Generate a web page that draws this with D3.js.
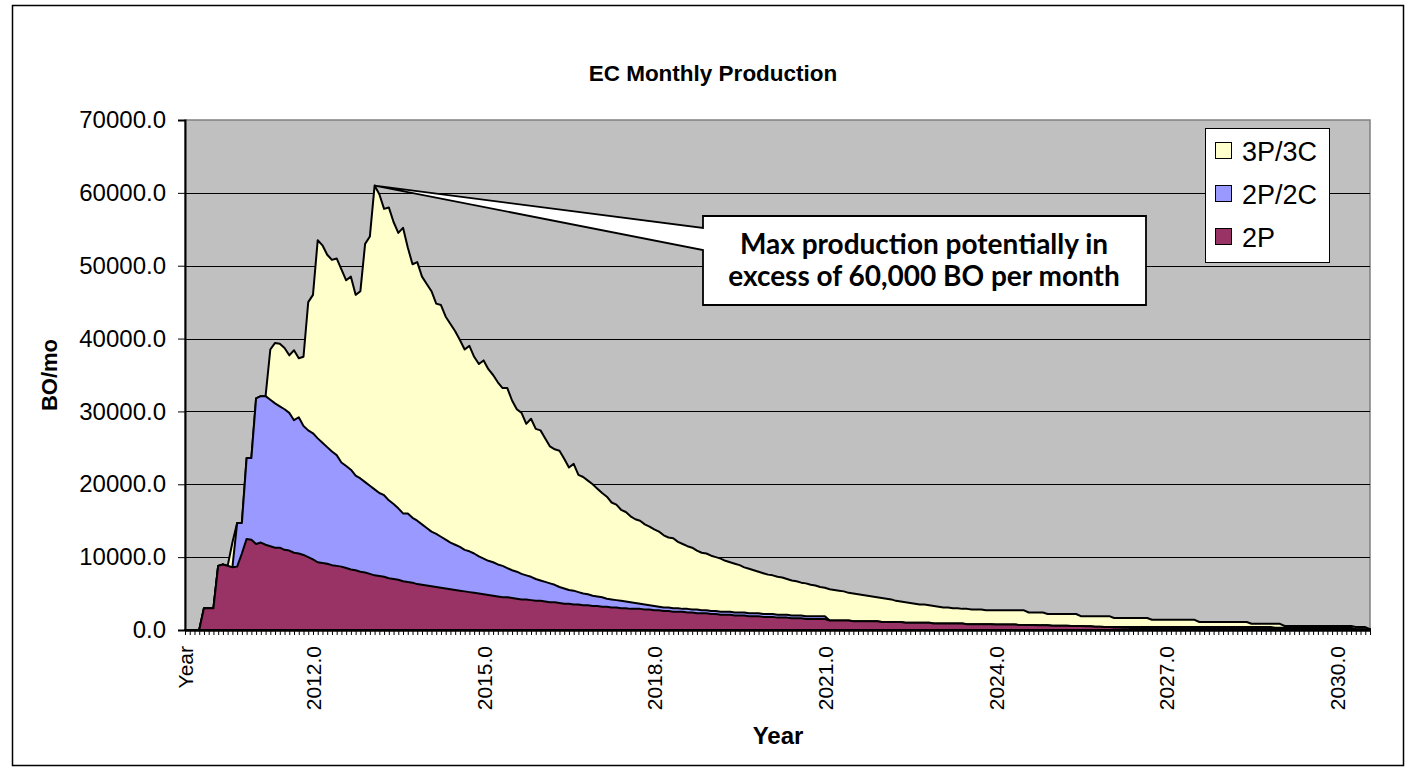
<!DOCTYPE html>
<html>
<head>
<meta charset="utf-8">
<script src="https://cdn.jsdelivr.net/npm/d3@7"></script>
<style>
  body { margin: 0; background: #fff; }
  text { font-family: "Liberation Sans", Arial, sans-serif; }
</style>
</head>
<body>
<div id="chart"></div>
<script>
// category 0 is the "Year" header, then one category per month
let seriesNames = ['3P/3C', '2P/2C', '2P']
let seriesColors = ['#FFFFCC', '#9999FF', '#993366']

let p3 = [
  0,0,0,0,3000,3000,3000,8800,9000,8800,
  12000,14700,14700,23600,23600,31800,32100,32100,38500,39400,
  39300,38700,37700,38400,37300,37500,45000,46000,53500,52800,
  51500,50800,51000,49500,48000,48500,46000,46500,53000,54000,
  61000,59800,57800,58000,56000,54500,55200,52500,50200,50500,
  48500,47500,46500,44800,44600,43000,42000,41000,39800,38500,
  39000,37500,36500,37000,35800,35000,34000,33200,33200,31500,
  30300,29800,28300,29000,27600,27400,26300,25200,24800,24600,
  23500,22300,22800,21300,21000,20500,20000,19400,18800,18300,
  17500,17200,16500,16200,15600,15200,15000,14500,14200,13800,
  13500,13000,12700,12600,12100,11800,11500,11300,10900,10600,
  10500,10200,10000,9800,9500,9300,9100,8900,8600,8400,
  8200,8000,7800,7600,7500,7300,7200,7000,6800,6700,
  6500,6400,6200,6100,5900,5800,5600,5500,5400,5300,
  5100,5000,4900,4800,4700,4600,4500,4400,4300,4200,
  4000,3900,3800,3700,3600,3500,3500,3400,3300,3200,
  3100,3100,3000,3000,2900,2900,2800,2800,2800,2700,
  2700,2700,2700,2700,2700,2700,2700,2700,2400,2400,
  2400,2400,2200,2200,2200,2200,2200,2200,2200,1900,
  1900,1900,1900,1900,1900,1900,1650,1650,1650,1650,
  1650,1650,1650,1650,1400,1400,1400,1400,1400,1400,
  1400,1400,1400,1400,1100,1100,1100,1100,1100,1100,
  1100,1100,1100,1100,1100,850,850,850,850,850,
  850,850,550,550,550,550,550,550,550,550,
  550,550,550,550,550,550,550,400,400,400,
  100
]

let p2c = [
  0,0,0,0,3000,3000,3000,8800,9000,8800,
  8600,14700,14700,23600,23600,31800,32100,32100,31600,31100,
  30700,30300,29800,28800,29200,28000,27400,27000,26300,25700,
  25100,24500,24000,23000,22500,22000,21200,20800,20300,19800,
  19300,18800,18500,17800,17300,16700,16000,16000,15400,15000,
  14500,14000,13500,13200,12800,12400,12000,11700,11400,11000,
  10800,10500,10100,9800,9500,9300,9000,8800,8500,8200,
  8000,7700,7500,7300,7000,6800,6600,6400,6200,5900,
  5700,5500,5400,5200,5000,4900,4700,4600,4500,4300,
  4200,4100,4000,3900,3800,3700,3600,3500,3400,3300,
  3200,3100,3100,3000,3000,2900,2900,2800,2800,2700,
  2700,2600,2600,2500,2500,2500,2400,2400,2400,2300,
  2300,2300,2200,2200,2200,2100,2100,2100,2000,2000,
  2000,1900,1900,1900,1900,1900,1300,1300,1300,1300,
  1300,1200,1200,1200,1200,1200,1200,1100,1100,1100,
  1100,1100,1000,1000,1000,1000,1000,1000,900,900,
  900,900,900,900,900,800,800,800,800,800,
  800,750,750,750,750,750,700,700,700,700,
  650,650,650,600,600,600,600,550,550,550,
  500,500,450,450,400,400,400,400,400,400,
  400,400,400,400,400,400,400,400,400,400,
  400,400,400,400,400,400,400,400,400,400,
  400,400,400,400,400,400,400,400,400,400,
  300,300,300,300,300,300,300,300,300,300,
  300,300,300,300,300,300,300,100,100,100,
  100
]

let p2 = [
  0,0,0,0,3000,3000,3000,8800,9000,8800,
  8600,8700,10500,12500,12400,11800,12000,11700,11500,11300,
  11300,11000,10900,10600,10500,10300,10000,9700,9300,9200,
  9100,8900,8800,8700,8500,8300,8200,8000,7900,7700,
  7500,7400,7300,7100,7000,6900,6700,6600,6500,6300,
  6200,6100,6000,5900,5800,5700,5600,5500,5400,5300,
  5200,5100,5000,4900,4800,4700,4600,4500,4500,4400,
  4300,4200,4200,4100,4000,4000,3900,3800,3800,3700,
  3600,3600,3500,3500,3400,3400,3300,3300,3200,3200,
  3100,3100,3000,3000,2900,2900,2900,2800,2800,2700,
  2700,2600,2600,2500,2500,2500,2400,2400,2300,2300,
  2300,2200,2200,2100,2100,2100,2000,2000,2000,1900,
  1900,1900,1800,1800,1800,1700,1700,1700,1600,1600,
  1600,1500,1500,1500,1500,1500,1300,1300,1300,1300,
  1300,1200,1200,1200,1200,1200,1200,1100,1100,1100,
  1100,1100,1000,1000,1000,1000,1000,1000,900,900,
  900,900,900,900,900,800,800,800,800,800,
  800,750,750,750,750,750,700,700,700,700,
  650,650,650,600,600,600,600,550,550,550,
  500,500,450,450,400,400,350,350,300,300,
  250,200,200,200,200,200,200,200,200,200,
  200,200,200,200,200,200,200,200,200,200,
  200,200,200,200,200,200,200,200,200,200,
  200,200,200,200,200,200,200,200,200,200,
  200,200,200,200,200,200,200,100,100,100,
  100
]

let xTickLabels = ['Year', '2012.0', '2015.0', '2018.0', '2021.0', '2024.0', '2027.0', '2030.0']
let xTickIndex = [0, 27, 63, 99, 135, 171, 207, 243]
let yTicks = [0, 10000, 20000, 30000, 40000, 50000, 60000, 70000]

let width = 1416
let height = 771
let plot = { left: 185, right: 1370, top: 120, bottom: 630 }

let svg = d3.select('#chart')
  .append('svg')
    .attr('width', width)
    .attr('height', height)

// chart border
svg.append('rect')
  .attr('x', 12.5).attr('y', 5.5)
  .attr('width', 1391).attr('height', 760)
  .attr('fill', '#fff')
  .attr('stroke', '#000')
  .attr('stroke-width', 1.5)

let x = d3.scaleLinear()
  .domain([0, p3.length - 1])
  .range([plot.left, plot.right])

let y = d3.scaleLinear()
  .domain([0, 70000])
  .range([plot.bottom, plot.top])

// plot area
svg.append('rect')
  .attr('x', plot.left).attr('y', plot.top)
  .attr('width', plot.right - plot.left)
  .attr('height', plot.bottom - plot.top)
  .attr('fill', '#C0C0C0')
  .attr('stroke', '#808080')
  .attr('stroke-width', 1.5)

svg.append('g')
  .selectAll('line')
  .data(yTicks.filter(d => d > 0 && d < 70000))
  .enter()
  .append('line')
    .attr('x1', plot.left).attr('x2', plot.right)
    .attr('y1', d => Math.round(y(d)) + 0.5)
    .attr('y2', d => Math.round(y(d)) + 0.5)
    .attr('stroke', '#000')
    .attr('stroke-width', 1)

let area = d3.area()
  .x((d, i) => x(i))
  .y0(y(0))
  .y1(d => y(d))

let allSeries = [p3, p2c, p2]

svg.append('g')
  .selectAll('path')
  .data(allSeries)
  .enter()
  .append('path')
    .attr('d', d => area(d))
    .attr('fill', (d, i) => seriesColors[i])
    .attr('stroke', '#000')
    .attr('stroke-width', 2)
    .attr('stroke-linejoin', 'round')

// axes
let yAxis = svg.append('g')
  .attr('transform', `translate(${plot.left},0)`)
  .call(d3.axisLeft(y).tickValues(yTicks).tickFormat(d3.format('.1f')).tickSize(7).tickPadding(12))

yAxis.select('.domain').attr('stroke', '#000').attr('stroke-width', 2)
yAxis.selectAll('.tick line').attr('stroke', '#000')
yAxis.selectAll('.tick text')
  .attr('font-size', 24)
  .attr('font-family', '"Liberation Sans", Arial, sans-serif')
  .attr('fill', '#000')

let labelFor = i => {
  let k = xTickIndex.indexOf(i)
  return k >= 0 ? xTickLabels[k] : ''
}

let xAxis = svg.append('g')
  .attr('transform', `translate(0,${plot.bottom})`)
  .call(d3.axisBottom(x).tickValues(d3.range(p3.length)).tickFormat(labelFor).tickSize(5).tickSizeOuter(0))

xAxis.select('.domain').attr('stroke', '#000').attr('stroke-width', 2.5)
xAxis.selectAll('.tick line').attr('stroke', '#000')
xAxis.selectAll('.tick text')
  .attr('font-size', 21)
  .attr('font-family', '"Liberation Sans", Arial, sans-serif')
  .attr('fill', '#000')
  .attr('transform', 'rotate(-90)')
  .attr('text-anchor', 'end')
  .attr('x', -16)
  .attr('y', 0)
  .attr('dy', '0.36em')

// titles
svg.append('text')
  .attr('x', 713).attr('y', 81)
  .attr('text-anchor', 'middle')
  .attr('font-size', 22.5)
  .attr('font-weight', 'bold')
  .text('EC Monthly Production')

svg.append('text')
  .attr('transform', 'translate(57,375) rotate(-90)')
  .attr('text-anchor', 'middle')
  .attr('font-size', 22)
  .attr('font-weight', 'bold')
  .text('BO/mo')

svg.append('text')
  .attr('x', 778).attr('y', 744)
  .attr('text-anchor', 'middle')
  .attr('font-size', 24)
  .attr('font-weight', 'bold')
  .text('Year')

// legend
let legend = svg.append('g')
legend.append('rect')
  .attr('x', 1205.5).attr('y', 128.5)
  .attr('width', 124).attr('height', 134)
  .attr('fill', '#fff')
  .attr('stroke', '#000')
  .attr('stroke-width', 1)

let items = legend.selectAll('g.item')
  .data(seriesNames)
  .enter()
  .append('g')
    .attr('transform', (d, i) => `translate(1215,${151 + i * 43})`)

items.append('rect')
  .attr('x', 0.5).attr('y', -8.5)
  .attr('width', 16).attr('height', 16)
  .attr('fill', (d, i) => seriesColors[i])
  .attr('stroke', '#000')
  .attr('stroke-width', 1)

items.append('text')
  .attr('x', 27).attr('y', 0)
  .attr('dy', '0.36em')
  .attr('font-size', 27)
  .text(d => d)

// callout pointing at the peak
let peakIdx = p3.indexOf(d3.max(p3))
let tipX = x(peakIdx)
let tipY = y(p3[peakIdx])
let box = { x1: 703, y1: 216, x2: 1146, y2: 305 }

svg.append('path')
  .attr('d', `M${box.x1},${box.y1}L${box.x2},${box.y1}L${box.x2},${box.y2}L${box.x1},${box.y2}L${box.x1},250L${tipX},${tipY}L${box.x1},228Z`)
  .attr('fill', '#fff')
  .attr('stroke', '#000')
  .attr('stroke-width', 1.8)
  .attr('stroke-linejoin', 'miter')

let callLines = ['Max production potentially in', 'excess of 60,000 BO per month']
svg.append('g')
  .selectAll('text')
  .data(callLines)
  .enter()
  .append('text')
    .attr('x', 924)
    .attr('y', (d, i) => 254 + i * 32)
    .attr('text-anchor', 'middle')
    .attr('font-size', 28)
    .attr('font-weight', 'bold')
    .style('font-family', 'Lato, "Open Sans", sans-serif')
    .text(d => d)
</script>
</body>
</html>
